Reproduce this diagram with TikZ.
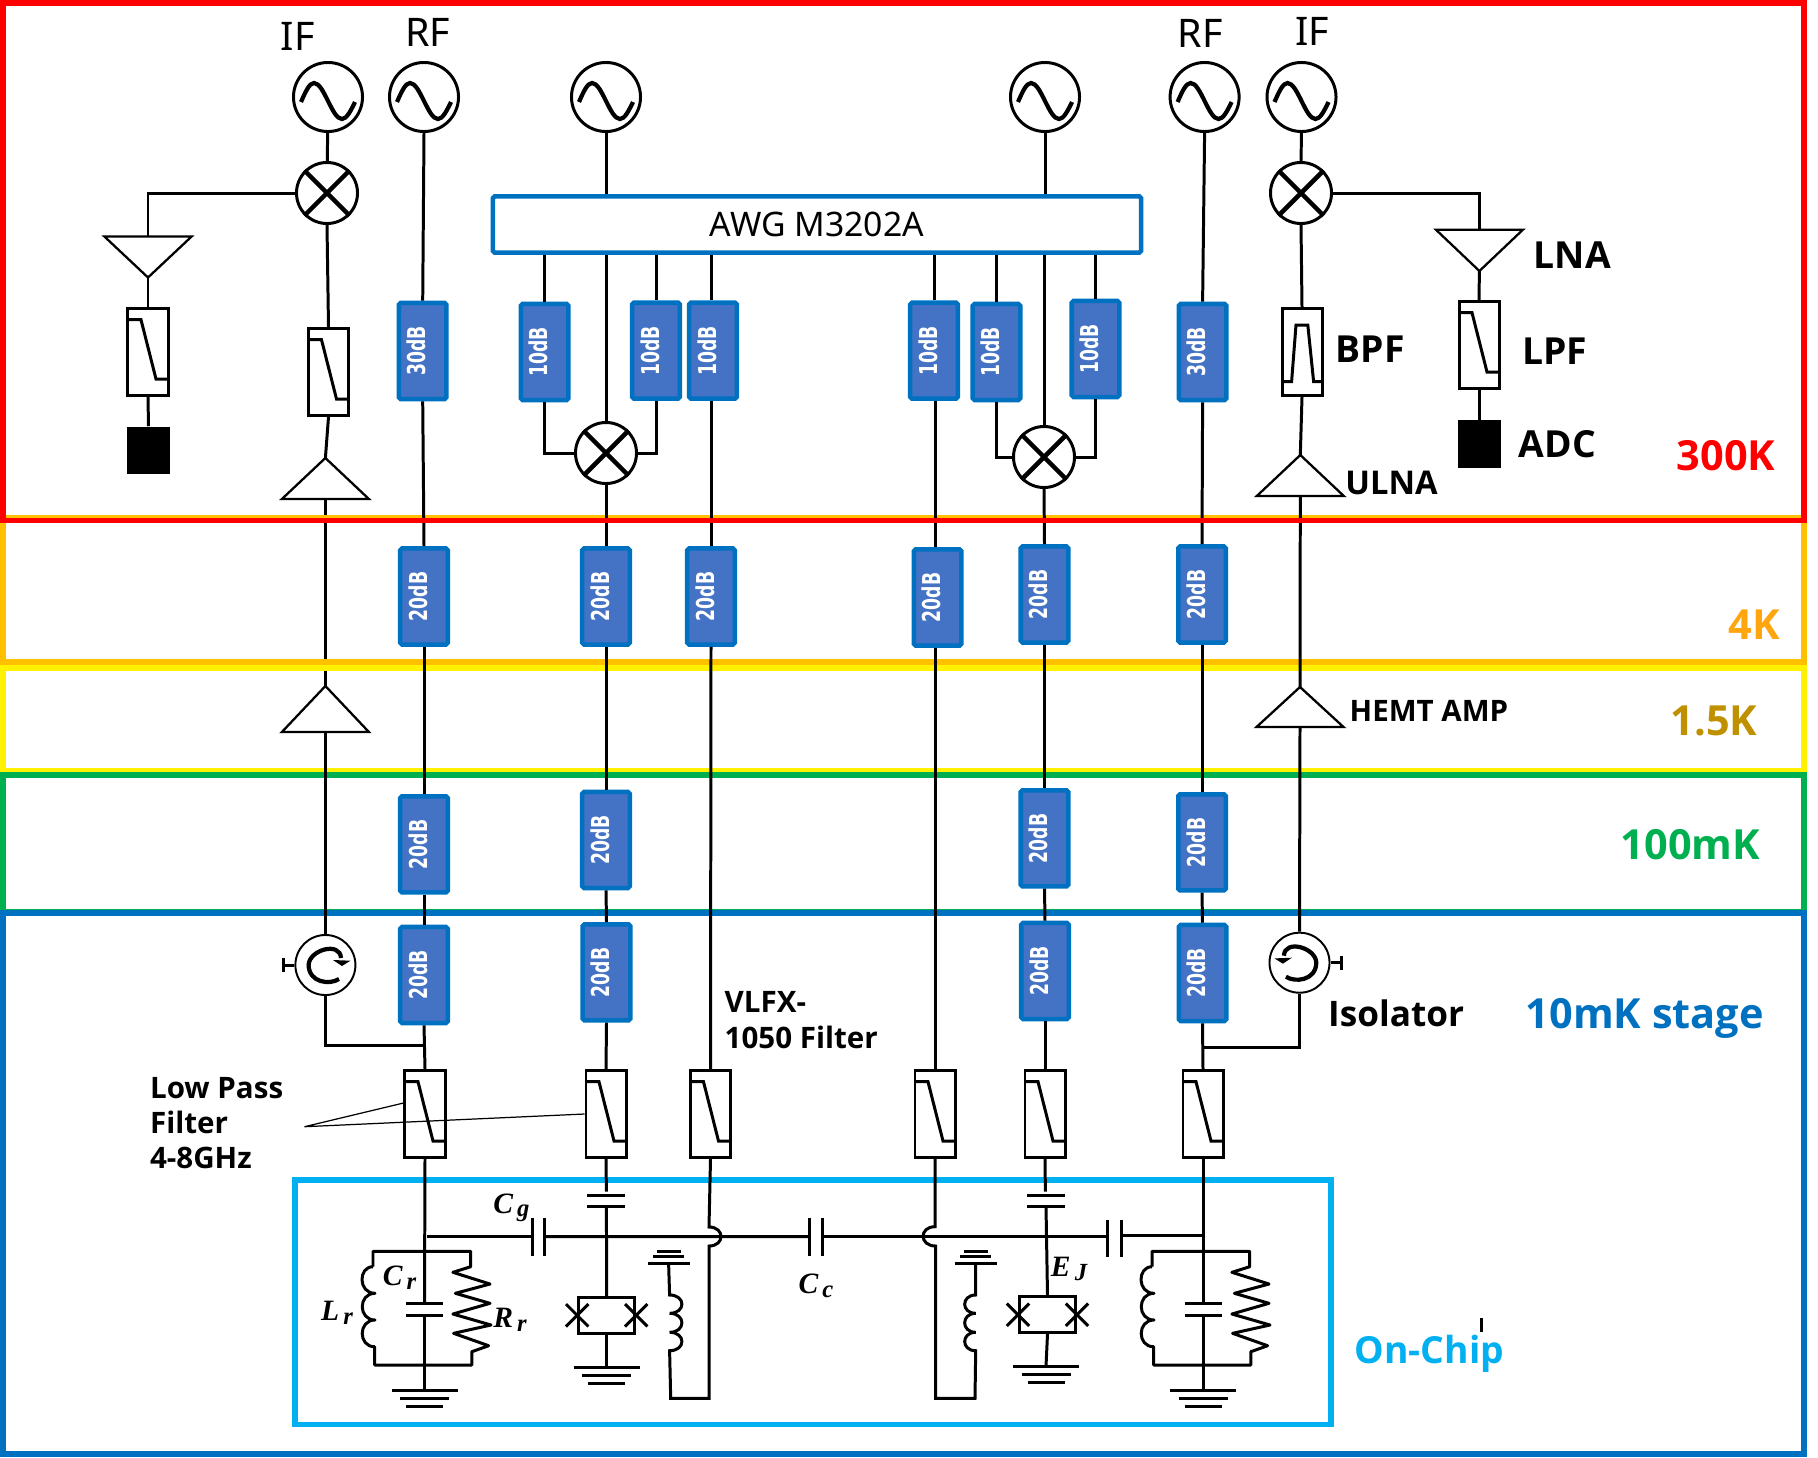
\documentclass[tikz,border=0pt]{standalone}
\usepackage{fontspec}
\setmainfont{Noto Sans}
\newfontfamily\thinfont{Noto Sans}
\newfontfamily\heavyfont{Open Sans Bold}
\newfontfamily\attfont[FakeStretch=0.7]{DejaVu Sans}
\newfontfamily\symfont{Liberation Serif}
\newcommand{\fsz}[1]{\fontsize{#1}{#1}\selectfont}
\definecolor{frameblue}{HTML}{0070C0}
\definecolor{chipblue}{HTML}{00B0F0}
\definecolor{attblue}{HTML}{4472C4}
\definecolor{frameorange}{HTML}{FFC000}
\definecolor{textorange}{HTML}{FFA50E}
\definecolor{textgold}{HTML}{BF9000}
\definecolor{framegreen}{HTML}{00B050}
\tikzset{wire/.style={line width=0.85pt},
         wave/.style={line width=1.2pt},
         thinline/.style={line width=0.35pt},
         ampline/.style={line width=0.65pt,fill=white},
         frame/.style={line width=1.65pt},
         oscbox/.style={circle,draw,line width=0.85pt,minimum size=0.69cm,inner sep=0pt},
         mixbox/.style={circle,draw,line width=0.85pt,minimum size=0.61cm,inner sep=0pt},
         cirbox/.style={circle,draw,line width=0.55pt,minimum size=0.6cm,inner sep=0pt},
         filterbox/.style={rectangle,draw,line width=0.85pt,minimum width=0.4cm,minimum height=0.87cm,inner sep=0pt},
         attbox/.style={rectangle,draw=frameblue,fill=attblue,line width=1.28pt,rounded corners=0.5pt,
                        minimum width=0.475cm,minimum height=0.96cm,inner sep=0pt,text=white},
         adcbox/.style={rectangle,fill=black,minimum width=0.43cm,minimum height=0.475cm,inner sep=0pt},
         jjbox/.style={rectangle,draw,line width=0.85pt,minimum width=0.56cm,minimum height=0.357cm,inner sep=0pt},
         awgbox/.style={rectangle,draw=frameblue,line width=1.28pt,rounded corners=0.5pt,
                        minimum width=6.48cm,minimum height=0.56cm,inner sep=0pt},
         txt/.style={anchor=base west,inner sep=0pt},
         sym/.style={inner sep=0pt,font=\symfont\bfseries\itshape\fsz{8.4}},
        }
\newcommand{\att}[1]{\rotatebox{90}{\attfont\bfseries\fsz{7}#1}\hspace*{3.4pt}}
\newcommand{\symb}[2]{#1\raisebox{-1.1pt}{\fsz{7}\,#2}}
\newcommand{\osc}[3]{\node[oscbox](#1)at(#2,#3){};
  \draw[wave]([shift={(-27,5)}]#1.center)sin([shift={(-14,-14)}]#1.center)cos([shift={(0,4)}]#1.center)
    sin([shift={(14,22)}]#1.center)cos([shift={(27,5)}]#1.center);}
\newcommand{\mixer}[3]{\node[mixbox](#1)at(#2,#3){};
  \draw[line width=1.3pt](#1.45)--(#1.225)(#1.135)--(#1.315);}
\newcommand{\lowpass}[3]{\node[filterbox](#1)at(#2,#3){};
  \draw[wire]([shift={(-19.5,-32.3)}]#1.center)--([shift={(-7,-32.3)}]#1.center)
    --([shift={(8,27)}]#1.center)--([shift={(19.5,27)}]#1.center);}
\newcommand{\tri}[4]{\coordinate(#1a)at(#2,#3);\coordinate(#1b)at(#2,#4);
  \draw[ampline]([shift={(-43.5,0)}]#1b)--([shift={(43.5,0)}]#1b)--(#1a)--cycle;}
\newcommand{\circulator}[4]{\node[cirbox](#1)at(#2,#3){};
  \draw[line width=1.2pt]([shift={(#4*13.6,14)}]#1.center)..controls([shift={(#4*4.6,20)}]#1.center)and([shift={(#4*-16.4,18)}]#1.center)..([shift={(#4*-16.8,0)}]#1.center)
    ..controls([shift={(#4*-16.4,-15)}]#1.center)and([shift={(#4*14.6,-24)}]#1.center)..([shift={(#4*15.6,-7)}]#1.center);
  \fill([shift={(#4*7.6,-5)}]#1.center)--([shift={(#4*25,-4.3)}]#1.center)--([shift={(#4*16.6,1)}]#1.center)--cycle;}
\newcommand{\hplate}[2]{\draw[wire]([shift={(-#2,0)}]#1)--([shift={(#2,0)}]#1);}
\newcommand{\vplate}[2]{\draw[wire]([shift={(0,-#2)}]#1)--([shift={(0,#2)}]#1);}
\newcommand{\grnd}[1]{\draw[wire]([shift={(-33,0)}]#1)--([shift={(33,0)}]#1)
    ([shift={(-24.5,8.2)}]#1)--([shift={(24.5,8.2)}]#1)([shift={(-18.5,16)}]#1)--([shift={(18.5,16)}]#1);}
\newcommand{\fluxgnd}[1]{\draw[wire]([shift={(-21,0)}]#1)--([shift={(21,0)}]#1)
    ([shift={(-15.2,-7)}]#1)--([shift={(15.2,-7)}]#1)([shift={(-12,-12.3)}]#1)--([shift={(12,-12.3)}]#1);}
\newcommand{\jj}[1]{\draw[wire]([shift={(-11.2,-11.2)}]#1)--([shift={(11.2,11.2)}]#1)
    ([shift={(11.2,-11.2)}]#1)--([shift={(-11.2,11.2)}]#1);}
\newcommand{\resonator}[1]{\begin{scope}[shift={(#1,0)}]
  \draw[wire,line join=round](373,1266.7)--(373,1251.3)--(470.7,1251.3)--(470.7,1266.7)--(452.9,1272.3)--(490,1284)--(455.4,1293.3)
    --(490,1303.3)--(452.9,1314)--(491,1325)--(453.6,1333.3)--(488.6,1345.7)--(471.8,1351.7)--(471.8,1365)--(374.6,1365)
    --(374.6,1346.7)..controls(358,1346.7)and(358,1320)..(375,1320)..controls(358,1320)and(358,1293.3)..(375,1293.3)
    ..controls(358,1293.3)and(358,1266.7)..(373,1266.7);
  \end{scope}}

\begin{document}
\begin{tikzpicture}[x=0.01cm,y=-0.01cm]
  \useasboundingbox(0,0)rectangle(1818,1457);

  \tri{ampa}{325.4}{458}{499}
  \tri{ampb}{325.4}{686}{732}
  \draw[wire](ampab)--(ampba);

  \draw[frame,color=frameorange](3,518)rectangle(1804,662);
  \draw[frame,color=yellow](3,668)rectangle(1804,771);
  \draw[frame,color=framegreen](3,775)rectangle(1804,912);
  \draw[frame,color=frameblue](3,913)rectangle(1804,1454);
  \draw[line width=1.45pt,color=chipblue](295,1180)rectangle(1331,1424.5);

  \osc{if1}{328}{97}
  \osc{rf1}{424}{97}
  \osc{lo1}{606}{97}
  \osc{lo2}{1045}{97}
  \osc{rf2}{1204.6}{97}
  \osc{if2}{1301.5}{97}
  \mixer{mx1}{327}{193}
  \mixer{mx2}{1301}{193}
  \mixer{mq1}{606}{453}
  \mixer{mq2}{1044}{457}

  \node[awgbox](awg)at(817,224.5){\thinfont\fsz{9.6}AWG M3202A};

  \tri{ampd}{148}{277.5}{236.6}
  \lowpass{lp1}{148}{352}
  \node[adcbox](adc1)at(148.5,450.7){};
  \lowpass{lp2}{328.5}{372}
  \tri{ampr}{1479.4}{271}{229.7}
  \lowpass{lp3}{1479}{345}
  \node[adcbox](adc2)at(1479,444){};
  \node[filterbox](bpf)at(1302,352){};
  \draw[wire](1282.3,381.5)--(1291.6,381.5)--(1296,325)--(1307.8,325)--(1313.6,381.5)--(1321.8,381.5);
  \tri{ulna}{1300.3}{455}{496}
  \tri{hemt}{1300}{687}{727}

  \node[attbox](a30)at(422.7,351){\att{30dB}};
  \node[attbox](a11)at(544.7,352){\att{10dB}};
  \node[attbox](a12)at(656,350.7){\att{10dB}};
  \node[attbox](a13)at(713,350.7){\att{10dB}};
  \node[attbox](a14)at(934,350.7){\att{10dB}};
  \node[attbox](a15)at(996.5,352){\att{10dB}};
  \node[attbox](a16)at(1095.5,349){\att{10dB}};
  \node[attbox](b30)at(1202.6,352){\att{30dB}};

  \node[attbox](k4a)at(424,596.5){\att{20dB}};
  \node[attbox](k4b)at(606,596.5){\att{20dB}};
  \node[attbox](k4c)at(711,596.5){\att{20dB}};
  \node[attbox](k4d)at(937.6,597.5){\att{20dB}};
  \node[attbox](k4e)at(1044.5,594.5){\att{20dB}};
  \node[attbox](k4f)at(1202,594.5){\att{20dB}};

  \node[attbox](m1a)at(424,844.3){\att{20dB}};
  \node[attbox](m1b)at(606,840){\att{20dB}};
  \node[attbox](m1e)at(1044.5,838.3){\att{20dB}};
  \node[attbox](m1f)at(1202,842.3){\att{20dB}};

  \node[attbox](s1a)at(424,975){\att{20dB}};
  \node[attbox](s1b)at(606.5,972.3){\att{20dB}};
  \node[attbox](s1e)at(1045,971){\att{20dB}};
  \node[attbox](s1f)at(1202.5,973){\att{20dB}};

  \lowpass{f1}{425}{1114}
  \lowpass{f2}{606}{1114}
  \lowpass{f3}{710.5}{1114}
  \lowpass{f4}{935}{1114}
  \lowpass{f5}{1045}{1114}
  \lowpass{f6}{1203}{1114}

  \circulator{cr1}{325.4}{965}{1}
  \circulator{cr2}{1299.5}{962.7}{-1}
  \coordinate(tap1)at(424,1045);
  \coordinate(tap2)at(1202.5,1047);
  \draw[wire](cr1.west)--++(-11,0)++(0,-7.2)--++(0,14.4);
  \draw[wire](cr2.east)--++(11,0)++(0,-7.2)--++(0,14.4);

  \draw[wire](if1)--(mx1);
  \draw[wire](mx1.west)-|(ampdb);
  \draw[wire](ampda)--(lp1.north);
  \draw[wire](lp1.south)--(adc1.north);
  \draw[wire](mx1.south)--(lp2.north);
  \draw[wire](lp2.south)--(ampaa);
  \draw[wire](ampbb)--(cr1.north);
  \draw[wire](cr1.south)|-(tap1);

  \draw[wire](if2)--(mx2);
  \draw[wire](mx2.east)-|(amprb);
  \draw[wire](ampra)--(lp3.north);
  \draw[wire](lp3.south)--(adc2.north);
  \draw[wire](mx2.south)--(bpf.north);
  \draw[wire](bpf.south)--(ulnaa);
  \draw[wire](ulnab)--(hemta);
  \draw[wire](hemtb)--(cr2.north);
  \draw[wire](cr2.south)|-(tap2);

  \draw[wire](rf1.south)--(a30.north);
  \draw[wire](a30.south)--(k4a.north);
  \draw[wire](k4a.south)--(m1a.north);
  \draw[wire](m1a.south)--(s1a.north);
  \draw[wire](s1a.south)--(f1.north);

  \draw[wire](rf2.south)--(b30.north);
  \draw[wire](b30.south)--(k4f.north);
  \draw[wire](k4f.south)--(m1f.north);
  \draw[wire](m1f.south)--(s1f.north);
  \draw[wire](s1f.south)--(f6.north);

  \draw[wire](lo1.south)--(lo1.south|-awg.north);
  \draw[wire](mq1.north|-awg.south)--(mq1.north);
  \draw[wire](a11.north|-awg.south)--(a11.north);
  \draw[wire](a12.north|-awg.south)--(a12.north);
  \draw[wire](k4c.north|-awg.south)--(k4c.north|-a13.north);
  \draw[wire](a11.south)|-(mq1.west);
  \draw[wire](a12.south)|-(mq1.east);
  \draw[wire](mq1.south)--(k4b.north);
  \draw[wire](k4b.south)--(m1b.north);
  \draw[wire](m1b.south)--(s1b.north);
  \draw[wire](s1b.south)--(f2.north);
  \draw[wire](k4c.north|-a13.south)--(k4c.north);
  \draw[wire](k4c.south)--(f3.north);

  \draw[wire](lo2.south)--(lo2.south|-awg.north);
  \draw[wire](mq2.north|-awg.south)--(mq2.north);
  \draw[wire](a14.north|-awg.south)--(a14.north);
  \draw[wire](a15.north|-awg.south)--(a15.north);
  \draw[wire](a16.north|-awg.south)--(a16.north);
  \draw[wire](a15.south)|-(mq2.west);
  \draw[wire](a16.south)|-(mq2.east);
  \draw[wire](mq2.south)--(k4e.north);
  \draw[wire](k4e.south)--(m1e.north);
  \draw[wire](m1e.south)--(s1e.north);
  \draw[wire](s1e.south)--(f5.north);
  \draw[wire](f4.north|-a14.south)--(f4.north|-k4d.north);
  \draw[wire](f4.north|-k4d.south)--(f4.north);

  \coordinate(lead)at(304.5,1126.7);
  \draw[thinline]([shift={(0,-11)}]f1.west)--(lead)--(f2.west);

  \resonator{0}
  \resonator{779}
  \coordinate(c1t)at(424.5,1303.3);
  \coordinate(c1b)at(424.5,1315.3);
  \coordinate(g1)at(424.5,1390);
  \draw[wire](f1.south)--(c1t);
  \hplate{c1t}{18.5}
  \hplate{c1b}{18.5}
  \draw[wire](c1b)--(g1);
  \grnd{g1}
  \coordinate(c2t)at(1203,1303.3);
  \coordinate(c2b)at(1203,1315.3);
  \coordinate(g2)at(1203,1390);
  \draw[wire](f6.south)--(c2t);
  \hplate{c2t}{18.5}
  \hplate{c2b}{18.5}
  \draw[wire](c2b)--(g2);
  \grnd{g2}

  \coordinate(cgl)at(532,1236.7);
  \coordinate(cgr)at(544.6,1236.7);
  \coordinate(ccl)at(809,1236.5);
  \coordinate(ccr)at(822,1236.5);
  \coordinate(cjl)at(1107.9,1238.5);
  \coordinate(cjr)at(1121.4,1238.5);
  \coordinate(nb1)at(427,1236);
  \coordinate(nb2)at(1203,1235.3);
  \vplate{cgl}{19}
  \vplate{cgr}{19}
  \vplate{ccl}{19}
  \vplate{ccr}{19}
  \vplate{cjl}{18.5}
  \vplate{cjr}{18.5}
  \draw[wire](nb1)--(cgl|-nb1);
  \draw[wire](cgr)--(ccl);
  \draw[wire](ccr)--(cjl|-ccr);
  \draw[wire](cjr|-nb2)--(nb2);

  \node[jjbox](t1)at(606.7,1315.3){};
  \coordinate(q1t)at(606.4,1195);
  \coordinate(q1b)at(606.4,1206);
  \coordinate(g3)at(606.7,1367.3);
  \hplate{q1t}{19}
  \hplate{q1b}{19}
  \draw[wire](f2.south)--(606.4,1191.7);
  \draw[wire](q1b)--(t1.north);
  \draw[wire](t1.south)--(g3);
  \grnd{g3}
  \jj{t1.west}
  \jj{t1.east}

  \node[jjbox](t2)at(1047.5,1314.7){};
  \coordinate(q2t)at(1046,1195);
  \coordinate(q2b)at(1046,1206);
  \coordinate(g4)at(1046,1366.3);
  \hplate{q2t}{19}
  \hplate{q2b}{19}
  \draw[wire](f5.south)--(1045.4,1191.7);
  \draw[wire](q2b)--(t2.north);
  \draw[wire](t2.south)--(g4);
  \grnd{g4}
  \jj{t2.west}
  \jj{t2.east}

  \coordinate(fg1)at(668.6,1263.3);
  \fluxgnd{fg1}
  \draw[wire](fg1)--(669.6,1295)..controls(686,1295)and(686,1313.3)..(669.6,1313.3)..controls(686,1313.3)and(686,1332.3)..(669.6,1332.3)
    ..controls(686,1332.3)and(686,1350.7)..(669.6,1350.7)--(670.7,1398.3)--(709,1398.3)--(709,1246)
    ..controls(725,1246)and(725,1227)..(709,1227)--(f3.south);
  \coordinate(fg2)at(975.5,1263.3);
  \fluxgnd{fg2}
  \draw[wire](f4.south)--(935,1226.7)..controls(919,1226.7)and(919,1246)..(935.7,1246)--(935.7,1398.3)--(975,1398.3)--(975.7,1350.7)
    ..controls(961,1350.7)and(961,1332.3)..(975.7,1332.3)..controls(961,1332.3)and(961,1313.3)..(975.7,1313.3)
    ..controls(961,1313.3)and(961,1295)..(975.7,1295)--(fg2);

  \node[sym](cg)at(511.4,1207.8){\symb{C}{g}};
  \node[sym](cr)at(399.5,1277.5){\symb{C}{r}};
  \node[sym](lr)at(337,1313){\symb{L}{r}};
  \node[sym](rr)at(510,1320){\symb{R}{r}};
  \node[sym](cc)at(816,1286){\symb{C}{c}};
  \node[sym](ej)at(1069,1269){\symb{E}{J}};

  \node[txt,font=\thinfont\fsz{11.2}](tif1)at(280,50){IF};
  \node[txt,font=\thinfont\fsz{11.2}](trf1)at(404.5,46.5){RF};
  \node[txt,font=\thinfont\fsz{11.2}](trf2)at(1177,47.5){RF};
  \node[txt,font=\thinfont\fsz{11.2}](tif2)at(1294.4,45.5){IF};
  \node[txt,font=\heavyfont\fsz{10.6}](tlna)at(1533,268){LNA};
  \node[txt,font=\heavyfont\fsz{10.6}](tbpf)at(1335,362){BPF};
  \node[txt,font=\heavyfont\fsz{10.6}](tlpf)at(1521.5,364){LPF};
  \node[txt,font=\heavyfont\fsz{10.6}](tadc)at(1518,457){ADC};
  \node[txt,font=\heavyfont\fsz{9.3}](tuln)at(1344.7,494){ULNA};
  \node[txt,font=\heavyfont\fsz{8.4}](themt)at(1349,721.7){HEMT AMP};
  \node[txt,font=\heavyfont\fsz{10}](tiso)at(1327.5,1026){Isolator};
  \node[txt,font=\heavyfont\fsz{8.4}](tvl1)at(724,1012.7){VLFX-};
  \node[txt,font=\heavyfont\fsz{8.4}](tvl2)at(724,1048){1050 Filter};
  \node[txt,font=\heavyfont\fsz{8.4}](tlo1)at(149.4,1098){Low Pass};
  \node[txt,font=\heavyfont\fsz{8.4}](tlo2)at(149.4,1133){Filter};
  \node[txt,font=\heavyfont\fsz{8.4}](tlo3)at(149.4,1168){4-8GHz};
  \node[txt,font=\heavyfont\fsz{11.8},text=red](t300)at(1676,470){300K};
  \node[txt,font=\heavyfont\fsz{11.8},text=textorange](t4)at(1728,639){4K};
  \node[txt,font=\heavyfont\fsz{11.8},text=textgold](t15)at(1670,735){1.5K};
  \node[txt,font=\heavyfont\fsz{11.8},text=framegreen](t100)at(1620,859){100mK};
  \node[txt,font=\heavyfont\fsz{11.8},text=frameblue](t10)at(1525,1028){10mK stage};
  \node[txt,font=\heavyfont\fsz{10.6},text=chipblue](tchip)at(1354,1363){On-Chip};
  \draw[wire](1481.7,1318)--(1481.7,1332);

  \draw[line width=1.55pt,color=red](3,3)rectangle(1804,520.5);
\end{tikzpicture}
\end{document}
